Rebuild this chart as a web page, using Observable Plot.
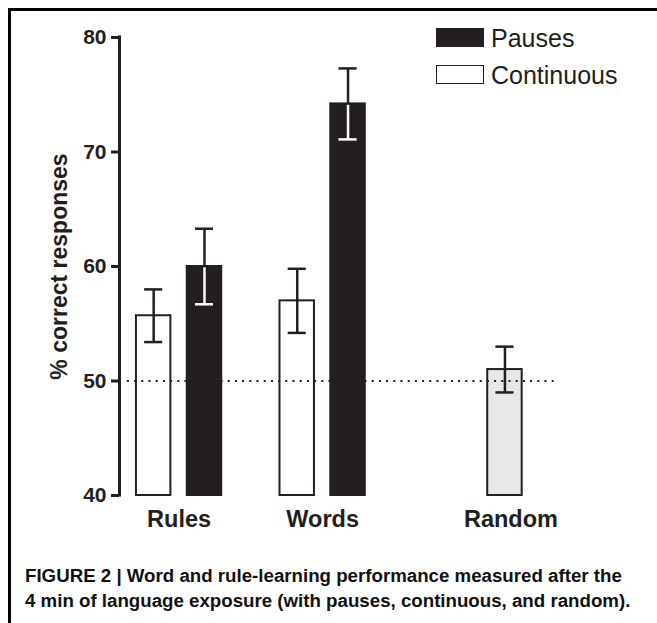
<!DOCTYPE html>
<html>
<head>
<meta charset="utf-8">
<script src="https://cdn.jsdelivr.net/npm/d3@7"></script>
<script src="https://cdn.jsdelivr.net/npm/@observablehq/plot@0.6"></script>
<style>
  html, body { margin: 0; padding: 0; background: #fff; overflow: hidden; }
  body { width: 657px; height: 623px; position: relative; font-family: "Liberation Sans", Arial, Helvetica, sans-serif; color: #231f20; }
  #chart { position: absolute; left: 0; top: 0; }
  #frame { position: absolute; left: 8px; top: 8px; width: 700px; height: 700px; border-left: 3px solid #000; border-top: 3px solid #000; pointer-events: none; z-index: 5; }
  .legend-swatch { position: absolute; width: 46px; height: 17px; border: 1.5px solid #231f20; }
  .legend-label { position: absolute; font-size: 25px; line-height: 25px; white-space: nowrap; color: #231f20; }
  #caption { position: absolute; left: 25px; top: 563px; font-size: 18.7px; line-height: 25px; font-weight: bold; color: #111; white-space: nowrap; }
</style>
</head>
<body>
<div id="chart"></div>
<div id="legend"></div>
<div id="caption"></div>
<div id="frame"></div>
<script>
// ---- data ----
const categories = ["Rules", "Words", "Random"];
const barGroups = ["Rules", "Rules", "Words", "Words", "Random"];
const barConditions = ["Continuous", "Pauses", "Continuous", "Pauses", "Random"];
const barMeans = [55.7, 60.0, 57.0, 74.2, 51.0];
const barErrors = [2.3, 3.3, 2.8, 3.1, 2.0];
const yTicks = [40, 50, 60, 70, 80];
const chanceLevel = 50;
const legendLabels = ["Pauses", "Continuous"];
const yLabel = "% correct responses";
const captionLines = [
  "FIGURE 2 | Word and rule-learning performance measured after the",
  "4 min of language exposure (with pauses, continuous, and random)."
];

// ---- layout (styling, not data) ----
const groupSlot = {Rules: 1, Words: 2, Random: 3.27};
const condOffset = {Continuous: -0.177, Pauses: 0.177, Random: 0};
const barHalf = 0.12;
const capHalf = 0.063;
const xDomain = [0.585, 3.65];
const fillColors = {Pauses: "#231f20", Continuous: "#ffffff", Random: "#e6e7e8"};
const ink = "#231f20";

const bars = barMeans.map((m, i) => ({
  group: barGroups[i],
  cond: barConditions[i],
  mean: m,
  err: barErrors[i],
  cx: groupSlot[barGroups[i]] + condOffset[barConditions[i]]
}));
const pauseBars = bars.filter(d => d.cond === "Pauses");
const slots = categories.map(c => groupSlot[c]);
const labelFor = d => categories[slots.indexOf(d)];
const xLabelStyle = {tickSize: 0, tickPadding: 15, fontSize: 23.5, fontWeight: "bold", label: null, tickFormat: labelFor};

const plot = Plot.plot({
  width: 657,
  height: 545,
  marginLeft: 119,
  marginRight: 98,
  marginTop: 37,
  marginBottom: 50,
  style: {fontFamily: "'Liberation Sans', Arial, Helvetica, sans-serif", color: ink, background: "transparent"},
  x: {domain: xDomain},
  y: {domain: [40, 80]},
  color: {domain: Object.keys(fillColors), range: Object.values(fillColors)},
  marks: [
    Plot.rectY(bars, {
      x1: d => d.cx - barHalf, x2: d => d.cx + barHalf,
      y1: 40, y2: "mean",
      fill: "cond", stroke: ink, strokeWidth: 2
    }),
    Plot.ruleY([chanceLevel], {x1: 0.64, x2: 3.62, stroke: ink, strokeWidth: 2, strokeDasharray: "2,5.2"}),
    // error bar stems & caps
    Plot.ruleX(bars, {x: "cx", y1: d => d.mean - d.err, y2: d => d.mean + d.err, stroke: ink, strokeWidth: 2.5}),
    Plot.ruleY(bars, {y: d => d.mean + d.err, x1: d => d.cx - capHalf, x2: d => d.cx + capHalf, stroke: ink, strokeWidth: 2.5}),
    Plot.ruleY(bars, {y: d => d.mean - d.err, x1: d => d.cx - capHalf, x2: d => d.cx + capHalf, stroke: ink, strokeWidth: 2.5}),
    // white part inside dark bars
    Plot.ruleX(pauseBars, {x: "cx", y1: d => d.mean - d.err, y2: d => d.mean - 0.12, stroke: "#fff", strokeWidth: 2.5}),
    Plot.ruleY(pauseBars, {y: d => d.mean - d.err, x1: d => d.cx - capHalf, x2: d => d.cx + capHalf, stroke: "#fff", strokeWidth: 2.5}),
    // y axis
    Plot.ruleX([xDomain[0]], {y1: 40, y2: 80, stroke: ink, strokeWidth: 3, strokeLinecap: "square"}),
    Plot.axisY({ticks: yTicks, tickSize: 8, tickPadding: 5, strokeWidth: 3, fontSize: 21, fontWeight: "bold", label: null}),
    Plot.axisX({...xLabelStyle, ticks: slots.slice(0, 2)}),
    Plot.axisX({...xLabelStyle, ticks: slots.slice(2), dx: 6}),
    Plot.text([yLabel], {frameAnchor: "left", textAnchor: "middle", lineAnchor: "middle", rotate: -90, dx: -60, fontSize: 23, fontWeight: "bold", fill: ink})
  ]
});
document.getElementById("chart").appendChild(plot);

// legend
const legend = document.getElementById("legend");
legendLabels.forEach((lab, i) => {
  const top = 28 + i * 37;
  const sw = document.createElement("div");
  sw.className = "legend-swatch";
  sw.style.left = "436px";
  sw.style.top = top + "px";
  sw.style.background = fillColors[lab];
  legend.appendChild(sw);
  const t = document.createElement("div");
  t.className = "legend-label";
  t.style.left = "491px";
  t.style.top = (top - 2.5) + "px";
  t.textContent = lab;
  legend.appendChild(t);
});

// caption
document.getElementById("caption").innerHTML = captionLines.map(l => `<div>${l}</div>`).join("");
</script>
</body>
</html>
